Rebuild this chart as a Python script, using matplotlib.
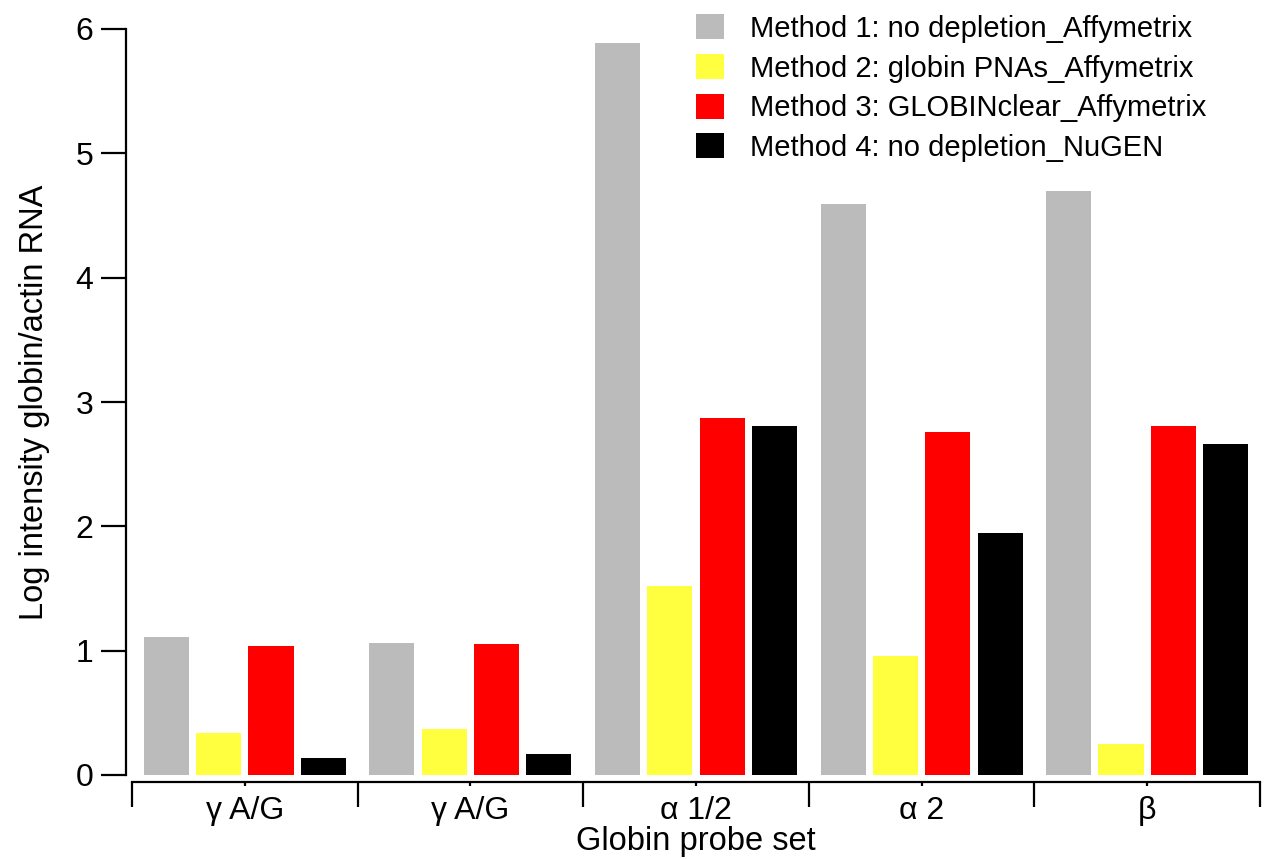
import numpy as np
import matplotlib.pyplot as plt

plt.rcParams['font.family'] = ['Liberation Sans', 'DejaVu Sans']

# Data
categories = ['\u03b3 A/G', '\u03b3 A/G', '\u03b1 1/2', '\u03b1 2', '\u03b2']
methods = ['Method 1: no depletion_Affymetrix',
           'Method 2: globin PNAs_Affymetrix',
           'Method 3: GLOBINclear_Affymetrix',
           'Method 4: no depletion_NuGEN']
method1 = [1.11, 1.06, 5.89, 4.59, 4.70]
method2 = [0.34, 0.37, 1.52, 0.96, 0.25]
method3 = [1.04, 1.05, 2.87, 2.76, 2.81]
method4 = [0.14, 0.17, 2.81, 1.95, 2.66]
colors = ['#bbbbbb', '#ffff40', '#ff0000', '#000000']

W, H = 1280, 859
fig = plt.figure(figsize=(W / 100, H / 100), dpi=100)
ax = fig.add_axes([132 / W, (H - 775) / H, (1260 - 132) / W, (775 - 29) / H])

x = np.arange(len(categories)) + 0.5
offsets = [-0.348, -0.116, 0.116, 0.348]
for vals, off, c, lab in zip([method1, method2, method3, method4], offsets, colors, methods):
    ax.bar(x + off, vals, width=0.2, color=c, label=lab, linewidth=0)

ax.set_xlim(0, 5)
ax.set_ylim(0, 6)

for s in ['top', 'right']:
    ax.spines[s].set_visible(False)
ax.spines['left'].set_position(('outward', 4))
ax.spines['bottom'].set_position(('outward', 5))
ax.spines['left'].set_linewidth(1.6)
ax.spines['bottom'].set_linewidth(1.6)

ax.set_yticks(range(7))
ax.tick_params(axis='y', direction='out', length=18, width=1.6, labelsize=23, pad=6)
ax.set_xticks(np.arange(6))
ax.set_xticklabels([])
ax.set_xticks(x, minor=True)
ax.set_xticklabels(categories, minor=True)
ax.tick_params(axis='x', which='major', direction='out', length=18, width=1.6)
ax.tick_params(axis='x', which='minor', direction='out', length=3, width=1.6,
               labelsize=23, pad=7)

ax.set_ylabel('Log intensity globin/actin RNA', fontsize=23.5, labelpad=18)
ax.set_xlabel('Globin probe set', fontsize=23.5, labelpad=0)

ax.legend(loc='upper right', bbox_to_anchor=(0.976, 1.055), frameon=False, fontsize=21,
          handlelength=0.95, handleheight=0.95, handletextpad=0.9, labelspacing=0.38)

fig.savefig('out.png', dpi=100)
